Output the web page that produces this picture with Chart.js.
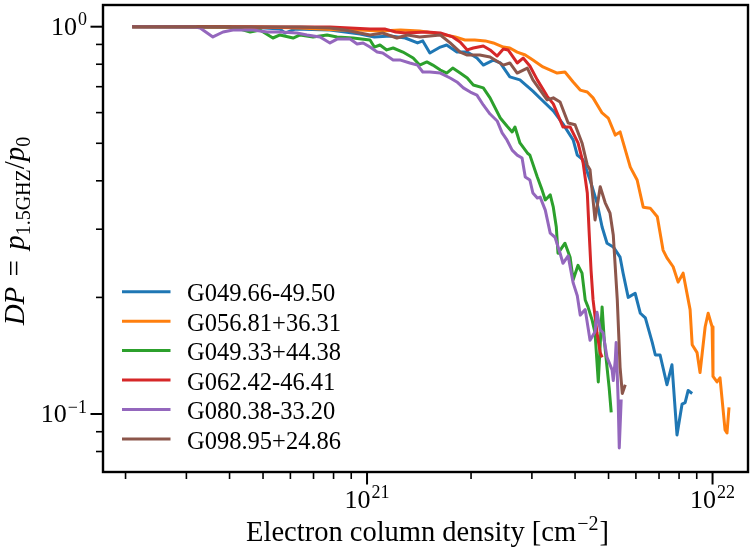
<!DOCTYPE html>
<html>
<head>
<meta charset="utf-8">
<script src="https://cdn.jsdelivr.net/npm/chart.js@4.4.1/dist/chart.umd.min.js"></script>
<style>
html,body{margin:0;padding:0;background:#ffffff;}
#wrap{width:750px;height:552px;}
</style>
</head>
<body>
<div id="wrap"><canvas id="c" width="750" height="552"></canvas></div>
<script>
// ---- DATA (column density in units of 1e20 cm^-2, DP = p_1.5GHz / p_0) ----
const seriesNames = ["G049.66-49.50","G056.81+36.31","G049.33+44.38","G062.42-46.41","G080.38-33.20","G098.95+24.86"];
const seriesColors = ["#1f77b4","#ff7f0e","#2ca02c","#d62728","#9467bd","#8c564b"];

const nG049_66 = [2.09,4.59,5.60,5.79,6.19,7.81,8.64,9.54,10.5,11.7,12.9,14.0,14.5,15.2,16.3,17.0,18.2,19.5,20.8,21.7,23.2,24.3,25.9,27.7,30.2,32.3,34.6,36.9,39.5,40.6,42.2,44.2,46.3,47.9,49.5,51.6,54.0,55.1,57.0,59.7,61.8,63.9,66.9,68.3,70.5,73.8,76.3,78.9,81.6,83.3,85.0,87.3];
const dpG049_66 = [1.000,0.998,0.986,0.963,0.986,0.981,0.969,0.958,0.941,0.946,0.935,0.908,0.919,0.855,0.886,0.897,0.860,0.860,0.830,0.796,0.820,0.806,0.742,0.729,0.682,0.643,0.606,0.561,0.510,0.466,0.453,0.402,0.351,0.304,0.276,0.270,0.254,0.231,0.200,0.205,0.182,0.177,0.153,0.142,0.142,0.119,0.134,0.0883,0.106,0.107,0.115,0.113];

const nG056_81 = [2.09,3.29,4.90,6.40,8.35,9.54,10.9,12.5,14.2,16.3,18.0,19.2,20.5,22.0,23.2,24.8,25.9,27.2,28.7,30.2,32.3,35.5,37.4,39.5,41.4,43.4,45.1,47.9,49.9,52.3,54.0,57.8,60.5,63.0,66.0,69.2,71.9,73.8,76.9,79.5,82.2,86.1,87.3,90.2,92.0,95.2,97.1,99.7,100.3,103.0,105.1,108.7,110.1,111.6];
const dpG056_81 = [1.000,1.000,0.998,0.992,0.981,0.981,0.975,0.981,0.975,0.958,0.941,0.924,0.924,0.919,0.908,0.886,0.881,0.860,0.845,0.820,0.787,0.759,0.764,0.720,0.686,0.678,0.655,0.599,0.581,0.525,0.535,0.434,0.402,0.342,0.340,0.323,0.265,0.253,0.240,0.219,0.231,0.186,0.151,0.144,0.128,0.168,0.182,0.168,0.125,0.121,0.124,0.0909,0.0893,0.104];

const nG049_33 = [2.09,4.01,4.29,4.59,4.90,5.34,5.60,6.11,6.40,6.98,7.66,8.19,9.11,10.2,10.5,10.9,11.4,11.9,12.7,13.6,14.2,14.9,15.5,16.3,17.0,17.7,18.6,19.5,20.3,21.7,22.7,24.3,25.4,26.3,26.8,27.7,29.1,29.6,31.1,32.1,32.8,33.9,34.6,35.3,35.7,37.4,38.7,39.5,40.8,41.9,42.8,43.6,44.8,45.7,46.7,47.9,48.6,49.5,50.2,50.9];
const dpG049_33 = [1.000,0.998,0.986,0.969,0.981,0.935,0.952,0.935,0.952,0.941,0.952,0.941,0.935,0.924,0.886,0.897,0.871,0.881,0.860,0.830,0.796,0.811,0.796,0.773,0.759,0.782,0.759,0.737,0.707,0.695,0.655,0.581,0.554,0.535,0.551,0.501,0.472,0.466,0.409,0.379,0.357,0.368,0.342,0.304,0.260,0.276,0.254,0.222,0.242,0.231,0.197,0.189,0.175,0.162,0.121,0.189,0.155,0.132,0.117,0.101];

const nG062_42 = [2.09,6.40,7.81,8.93,10.2,11.3,12.1,12.9,14.9,16.3,17.7,18.6,19.5,20.3,21.7,22.7,23.8,24.8,25.6,27.2,28.3,29.6,31.1,33.2,34.6,36.9,38.7,40.8,42.2,43.4,43.9,44.5,45.1,46.3,47.3,47.9];
const dpG062_42 = [1.000,0.998,0.998,0.992,0.986,0.986,0.969,0.963,0.969,0.963,0.941,0.913,0.871,0.881,0.892,0.871,0.840,0.876,0.871,0.806,0.830,0.792,0.729,0.662,0.632,0.551,0.551,0.501,0.445,0.372,0.299,0.235,0.197,0.162,0.144,0.140];

const nG080_38 = [2.09,3.18,3.29,3.35,3.58,3.83,4.09,4.68,5.14,5.60,6.27,6.70,7.31,7.81,8.19,8.93,9.36,9.74,10.2,10.7,11.1,11.9,12.5,13.3,14.0,14.5,15.2,16.3,17.4,18.2,19.0,19.9,20.8,21.7,22.7,23.8,24.6,25.4,26.3,27.2,28.1,28.7,29.6,30.2,31.1,31.7,32.8,33.9,35.0,36.2,36.9,38.2,39.5,40.6,41.4,42.8,44.2,45.7,46.3,47.3,48.2,49.5,51.2,51.6,52.3,52.6,53.3,53.7,54.4];
const dpG080_38 = [1.000,0.998,0.992,0.981,0.941,0.969,0.981,0.981,0.969,0.969,0.963,0.952,0.941,0.908,0.929,0.929,0.902,0.908,0.886,0.860,0.855,0.820,0.820,0.806,0.796,0.764,0.764,0.759,0.737,0.720,0.695,0.678,0.666,0.628,0.595,0.571,0.532,0.510,0.480,0.466,0.458,0.409,0.402,0.372,0.361,0.363,0.336,0.293,0.286,0.260,0.245,0.256,0.218,0.202,0.180,0.186,0.155,0.163,0.183,0.165,0.162,0.140,0.130,0.122,0.138,0.153,0.109,0.0817,0.109];

const nG098_95 = [2.09,6.40,7.81,8.64,9.54,10.2,11.1,12.2,13.1,14.2,16.3,17.4,18.6,19.5,21.2,22.7,24.8,25.9,27.2,29.1,30.2,31.7,33.2,34.6,36.2,38.2,40.0,41.9,43.4,44.2,45.7,47.3,48.9,50.5,51.6,53.0,54.0,54.8,55.9];
const dpG098_95 = [1.000,0.998,0.992,0.981,0.963,0.952,0.963,0.935,0.952,0.941,0.952,0.908,0.860,0.845,0.845,0.835,0.796,0.806,0.759,0.782,0.729,0.686,0.647,0.655,0.639,0.564,0.558,0.501,0.439,0.427,0.317,0.386,0.351,0.330,0.290,0.197,0.132,0.113,0.119];

const X_UNIT = 1e20;
const xMajorTicks = [1e21, 1e22];
const xMajorLabels = [["10","21"],["10","22"]];
const xMinorTicks = [2e20,3e20,4e20,5e20,6e20,7e20,8e20,9e20,2e21,3e21,4e21,5e21,6e21,7e21,8e21,9e21];
const yMajorTicks = [1, 0.1];
const yMajorLabels = [["10","0"],["10","\u22121"]];
const yMinorTicks = [0.08,0.09,0.2,0.3,0.4,0.5,0.6,0.7,0.8,0.9];
const xRange = [1.721e20, 1.2665e22];
const yRange = [0.07083, 1.1377];
const xTitle = ["Electron column density [cm", "\u22122", "]"];

// ---- build datasets ----
const xsList = [nG049_66, nG056_81, nG049_33, nG062_42, nG080_38, nG098_95];
const ysList = [dpG049_66, dpG056_81, dpG049_33, dpG062_42, dpG080_38, dpG098_95];
const datasets = seriesNames.map((name, i) => ({
  label: name,
  data: xsList[i].map((v, k) => ({x: v * X_UNIT, y: ysList[i][k]})),
  borderColor: seriesColors[i],
  backgroundColor: seriesColors[i],
  borderWidth: 3,
  pointRadius: 0,
  pointHoverRadius: 0,
  tension: 0,
  fill: false,
  borderJoinStyle: 'round',
  borderCapStyle: 'butt',
  order: -i
}));

const SERIF = '"Liberation Serif", "DejaVu Serif", serif';

function drawPow(ctx, base, exp, ax, baseline, align, size) {
  const bf = size + 'px ' + SERIF, ef = Math.round(size * 0.7) + 'px ' + SERIF;
  ctx.font = bf; const wb = ctx.measureText(base).width;
  ctx.font = ef; const we = ctx.measureText(exp).width;
  const gap = 1;
  const total = wb + gap + we;
  const x0 = align === 'center' ? ax - total / 2 : ax - total;
  ctx.textAlign = 'left';
  ctx.textBaseline = 'alphabetic';
  ctx.font = bf; ctx.fillText(base, x0, baseline);
  ctx.font = ef; ctx.fillText(exp, x0 + wb + gap, baseline - size * 0.38);
}

const decor = {
  id: 'decor',
  afterDatasetsDraw(chart) {
    const ctx = chart.ctx, a = chart.chartArea;
    const xs = chart.scales.x, ys = chart.scales.y;
    ctx.save();
    ctx.fillStyle = '#000'; ctx.strokeStyle = '#000';
    // spines
    ctx.lineWidth = 2.4;
    ctx.strokeRect(a.left, a.top, a.right - a.left, a.bottom - a.top);
    // x ticks
    ctx.lineCap = 'butt';
    ctx.lineWidth = 1.6;
    xMinorTicks.forEach(v => {
      const p = xs.getPixelForValue(v);
      if (p < a.left || p > a.right) return;
      ctx.beginPath(); ctx.moveTo(p, a.bottom); ctx.lineTo(p, a.bottom + 7); ctx.stroke();
    });
    ctx.lineWidth = 2;
    xMajorTicks.forEach((v, i) => {
      const p = xs.getPixelForValue(v);
      ctx.beginPath(); ctx.moveTo(p, a.bottom); ctx.lineTo(p, a.bottom + 12.5); ctx.stroke();
      drawPow(ctx, xMajorLabels[i][0], xMajorLabels[i][1], p, a.bottom + 36, 'center', 26);
    });
    // y ticks
    ctx.lineWidth = 1.6;
    yMinorTicks.forEach(v => {
      const p = ys.getPixelForValue(v);
      if (p < a.top || p > a.bottom) return;
      ctx.beginPath(); ctx.moveTo(a.left, p); ctx.lineTo(a.left - 7, p); ctx.stroke();
    });
    ctx.lineWidth = 2;
    yMajorTicks.forEach((v, i) => {
      const p = ys.getPixelForValue(v);
      ctx.beginPath(); ctx.moveTo(a.left, p); ctx.lineTo(a.left - 12.5, p); ctx.stroke();
      drawPow(ctx, yMajorLabels[i][0], yMajorLabels[i][1], a.left - 16, p + 8.5, 'right', 26);
    });
    // x title
    {
      const s = 28.5, f = s + 'px ' + SERIF, fs = Math.round(s * 0.7) + 'px ' + SERIF;
      ctx.font = f; const w1 = ctx.measureText(xTitle[0]).width, w3 = ctx.measureText(xTitle[2]).width;
      ctx.font = fs; const w2 = ctx.measureText(xTitle[1]).width;
      const total = w1 + w2 + w3 + 2;
      let x0 = (a.left + a.right) / 2 + 2 - total / 2;
      const base = 541;
      ctx.textAlign = 'left'; ctx.textBaseline = 'alphabetic';
      ctx.font = f; ctx.fillText(xTitle[0], x0, base);
      ctx.font = fs; ctx.fillText(xTitle[1], x0 + w1 + 1, base - 11);
      ctx.font = f; ctx.fillText(xTitle[2], x0 + w1 + w2 + 2, base);
    }
    // y title (rotated)
    {
      const s = 29, it = 'italic ' + s + 'px ' + SERIF, rm = s + 'px ' + SERIF;
      const sub = Math.round(s * 0.7) + 'px ' + SERIF;
      const runs = [
        {t: 'DP', f: it, dy: 0},
        {t: ' = ', f: rm, dy: 0, pad: 3},
        {t: 'p', f: it, dy: 0},
        {t: '1.5GHZ', f: sub, dy: 6},
        {t: '/', f: rm, dy: 0},
        {t: 'p', f: it, dy: 0},
        {t: '0', f: sub, dy: 6}
      ];
      let total = 0;
      runs.forEach(r => { ctx.font = r.f; r.w = ctx.measureText(r.t).width + (r.pad ? 2 * r.pad : 0); total += r.w; });
      ctx.save();
      ctx.translate(24, 231);
      ctx.rotate(-Math.PI / 2);
      ctx.textAlign = 'left'; ctx.textBaseline = 'alphabetic';
      let u = -total / 2;
      runs.forEach(r => { ctx.font = r.f; ctx.fillText(r.t, u + (r.pad || 0), r.dy); u += r.w; });
      ctx.restore();
    }
    // legend
    {
      const s = 24.5;
      ctx.font = s + 'px ' + SERIF;
      ctx.textAlign = 'left'; ctx.textBaseline = 'alphabetic';
      seriesNames.forEach((name, i) => {
        const yy = 291.7 + i * 29.46;
        ctx.strokeStyle = seriesColors[i]; ctx.lineWidth = 3;
        ctx.beginPath(); ctx.moveTo(122, yy); ctx.lineTo(170.5, yy); ctx.stroke();
        ctx.fillStyle = '#000';
        ctx.fillText(name, 187, yy + 9.5);
      });
    }
    ctx.restore();
  }
};

new Chart(document.getElementById('c'), {
  type: 'line',
  data: { datasets },
  options: {
    responsive: false,
    devicePixelRatio: 1,
    animation: false,
    layout: { padding: { left: 103, right: 2, top: 5, bottom: 80 } },
    plugins: { legend: { display: false }, tooltip: { enabled: false }, title: { display: false } },
    scales: {
      x: { type: 'logarithmic', min: xRange[0], max: xRange[1], display: false },
      y: { type: 'logarithmic', min: yRange[0], max: yRange[1], display: false }
    }
  },
  plugins: [decor]
});
</script>
</body>
</html>
